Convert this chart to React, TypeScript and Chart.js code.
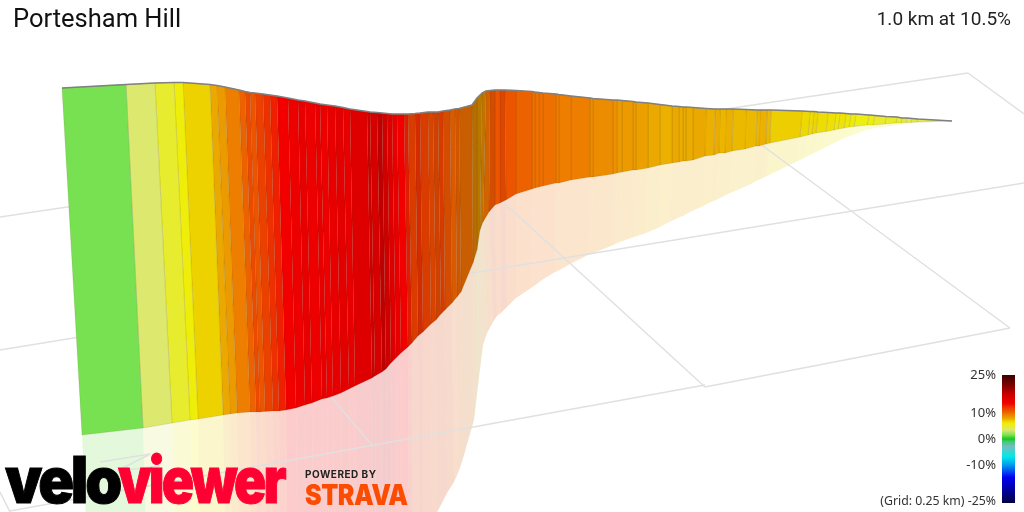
import React, { useEffect, useRef } from "react";
import { Chart, registerables } from "chart.js";

Chart.register(...registerables);

// wall top edge, wall foot and floor shadow edge at every gradient change
const topX = [62,126,155,174,183,210,217,225,239,245,250,255,263,270,277,288,298,305,315,320,327,335,343,350,367,370,377,382,387,392,397,404,408,415,420,428,433,438,443,450,455,459,472,477,482,486,490,495,500,505,516,532,535,539,543,556,559,571,590,593,613,617,622,633,636,648,660,672,679,683,686,693,706,715,720,726,733,746,757,760,767,771,802,810,814,818,828,836,840,846,851,856,869,875,886,897,902,907,912,918,952];
const topY = [88,84.5,83,82.5,82.5,84.5,85.5,87,90,91.5,92.5,93,94,95,96,98,100,101,103,104,105,106,107.5,109,111.5,112,112.5,113,113.5,114,114,114,114,113.5,113,112,112,112,111,110,109,108.5,105,98,93,91,90.5,90,90,90,90.5,91.5,92,92.5,93,94,94.5,96,98,98.5,100,100,100.5,101.5,102,103,104.5,106,106.5,107,107,107.5,108.5,109,109,109,109,109.5,110,110,110,110,111,111.5,111.5,112,112.5,113,113,113.5,114,114,115,115.5,116.5,117,118,118,118.5,119,121];
const footX = [82,143,172,190,198,223,230,237,250,256,260,265,273,279,286,296,305,312,322,327,333,341,349,355,372,375,382,386,391,396,401,408,412,418,423,431,436,441,445,452,457,461,473,477,480,483,489,495,500,506,516,532,535,539,543,556,559,571,590,593,613,617,622,633,636,648,660,672,679,683,686,693,705,714,719,725,732,745,756,759,766,770,800,808,812,816,826,834,838,844,849,854,867,873,885,896,901,906,911,917,952];
const footY = [435,428,423,420,419,415,414,413,412,412,412,411.5,411,411,410,408,405,403,399,398,396,393,389,386,378,376,372,369,363,358,353,347,343,336,332,324,320,314,310,303,297,292,263,250,230,222,212,205,203,200,194,189,188,187,186,183,183,180,177,177,174,173,172,170,170,168,165,163,162,161,161,160,156,155,153,153,151,149,146,146,144,143,137,135,134,133,131.5,130,129,128,127,126.5,125,125,124,123,123,122.5,122.5,122,121];
const shadeX = [90,148,176,194,201,226,233,240,252,258,262,267,275,281,288,298,307,314,324,329,335,343,351,357,373,376,383,387,392,397,402,409,413,419,424,432,437,442,447,454,458,462,474,478,483,487,493,497,501,507,516,531,534,538,542,555,558,570,588,591,611,615,620,631,634,646,658,669,676,680,683,690,703,711,716,722,729,742,753,756,763,767,798,806,810,814,824,832,836,842,847,853,866,872,884,895,900,905,910,916,952];
const shadeY = [600,600,600,600,600,600,600,600,600,600,600,600,600,600,600,600,600,600,600,600,600,600,600,600,600,600,590,585,580,575,570,565,560,550,545,530,512,503,493,482,473,462,420,385,345,333,322,316,313,307,298,288,286,283,280,272,271,264,255,254,246,244,242,238,237,233,228,222,219,217,216,212,206,202,200,197,193.5,188,183,181,178,176,161,157,155,153,148,144,142,139,137,135,130,128.5,127,125.5,124.5,124,123.5,123,121];

// road gradient (%) of each piece of the wall
const grades = [1.5,3.5,5,6,7,8,8.5,9.5,10.5,11.5,11,12,12.5,13,14,14.5,15,14.5,15,14.5,15,15.5,15,16,17,16.5,18,17,16,15,14,13,12,12.5,12,11.5,11.5,12,11,10.5,10.5,10,9,8.5,9,10,11,11,11.5,11,10.5,10,10,10,10,9.5,9.5,9.5,9,9,8.8,8.5,8.5,8.5,8.3,8,7.8,8,7.9,8,7.9,8,7.8,7.9,7.7,7.8,7.6,7.6,7.7,7.8,7.6,7.1,6.8,6.7,6.9,6.6,6.5,6.3,6.4,6.2,6.1,5.8,5.6,5.3,5.1,5,4.8,4.6,4.4,4.2];
const shadedPieces = [[31,0.93],[32,0.93],[33,0.9],[34,0.93],[35,0.92],[36,0.88],[37,0.92],[38,0.9],[39,0.92],[40,0.88],[41,0.84],[42,0.78],[43,0.78],[44,0.82],[45,0.88],[46,0.9],[48,0.94]];

// gradient (%) to colour, as in the colour bar
const scaleGrades = [-25,-20,-15,-10,-7,-3,-1,0,1.5,3.5,5,6,7,8,9,10,11,12,13,14,16,18,21,25];
const scaleColours = ["#000040","#0000a0","#0000f0","#00a0f0","#00e8e8","#70c0c0","#40c880","#18c818","#77e152","#dde86e","#e8ec2e","#eeee0a","#edd200","#eaa800","#ec8c00","#ee7000","#ec5400","#ea4000","#ee2000","#f20000","#de0000","#c00000","#800000","#3c0000"];

// floor grid, one [x0, y0, x1, y1] per line
const gridLines = [[0,217,968,73],[968,73,1024,114],[0,350,1024,183],[490,190,705,387],[705,387,1010,328],[763,146,1010,328],[10,511,705,385],[330,396,373,446],[0,492,10,512],[100,462,150,454],[150,454,117,471],[117,471,160,466]];

const barTick = [25, 10, 0, -10];
const barTickLabels = ["25%", "10%", "0%", "-10%"];

const barLeft = 1002, barRight = 1015, barTopY = 375, barBottomY = 503;

function hex(c: string) {
  return [1, 3, 5].map((i) => parseInt(c.slice(i, i + 2), 16));
}
function colourFor(g: number, light = 1, alpha = 1) {
  let i = 0;
  while (i < scaleGrades.length - 2 && g > scaleGrades[i + 1]) i++;
  const t = (g - scaleGrades[i]) / (scaleGrades[i + 1] - scaleGrades[i]);
  const a = hex(scaleColours[i]), b = hex(scaleColours[i + 1]);
  const c = a.map((v, k) => Math.round((v + (b[k] - v) * t) * light));
  return `rgba(${c[0]},${c[1]},${c[2]},${alpha})`;
}
function gradeY(g: number) {
  return barTopY + ((25 - g) / 50) * (barBottomY - barTopY);
}

const polygonPlugin = {
  id: "polygon",
  beforeDatasetDraw(chart: any, args: any) {
    const ds = chart.data.datasets[args.index];
    if (!ds.polyFill && !ds.polyStops) return;
    const pts = args.meta.data;
    const ctx = chart.ctx;
    ctx.save();
    ctx.beginPath();
    pts.forEach((p: any, i: number) => (i ? ctx.lineTo(p.x, p.y) : ctx.moveTo(p.x, p.y)));
    ctx.closePath();
    if (ds.polyStops) {
      const g = ctx.createLinearGradient(0, pts[0].y, 0, pts[3].y);
      ds.polyStops.forEach((s: [number, string]) => g.addColorStop(s[0], s[1]));
      ctx.fillStyle = g;
    } else {
      ctx.fillStyle = ds.polyFill;
    }
    ctx.fill();
    if (ds.polyEdge) {
      ctx.strokeStyle = ds.polyEdge;
      ctx.lineWidth = 1;
      ctx.stroke();
    }
    ctx.restore();
  },
};

function lightOf(i: number) {
  const s = shadedPieces.find((p) => p[0] === i);
  return s ? s[1] : 1;
}

const abs = (style: React.CSSProperties): React.CSSProperties => ({
  position: "absolute",
  whiteSpace: "nowrap",
  lineHeight: 1,
  transformOrigin: "left top",
  ...style,
});

export default function App() {
  const ref = useRef<HTMLCanvasElement | null>(null);
  useEffect(() => {
    const quad = (i: number, ax: number[], ay: number[], bx: number[], by: number[]) => [
      { x: ax[i], y: ay[i] },
      { x: ax[i + 1], y: ay[i + 1] },
      { x: bx[i + 1], y: by[i + 1] },
      { x: bx[i], y: by[i] },
    ];
    const hidden = { showLine: false, pointRadius: 0, pointHoverRadius: 0 };
    const datasets: any[] = [];
    datasets.push({
      label: "Colour bar",
      ...hidden,
      data: [
        { x: barLeft, y: barTopY },
        { x: barRight, y: barTopY },
        { x: barRight, y: barBottomY },
        { x: barLeft, y: barBottomY },
      ],
      polyStops: scaleGrades.map((g, i) => [(25 - g) / 50, scaleColours[i]]).reverse(),
    });
    datasets.push({
      label: "Road",
      data: topX.map((x, i) => ({ x, y: topY[i] })),
      showLine: true,
      borderColor: "#808080",
      borderWidth: 1.5,
      pointRadius: 0,
      tension: 0,
    });
    grades.forEach((g, i) => {
      datasets.push({
        label: `Wall ${i}`,
        ...hidden,
        data: quad(i, topX, topY, footX, footY),
        polyFill: colourFor(g, lightOf(i)),
        polyEdge: "rgba(70,60,20,0.12)",
      });
    });
    gridLines.forEach((l, i) => {
      datasets.push({
        label: `Grid ${i}`,
        data: [
          { x: l[0], y: l[1] },
          { x: l[2], y: l[3] },
        ],
        showLine: true,
        borderColor: "#e0e0e0",
        borderWidth: 1.5,
        pointRadius: 0,
      });
    });
    grades.forEach((g, i) => {
      datasets.push({
        label: `Shadow ${i}`,
        ...hidden,
        data: quad(i, footX, footY, shadeX, shadeY),
        polyFill: colourFor(g, lightOf(i), 0.2),
      });
    });
    const chart = new Chart(ref.current as HTMLCanvasElement, {
      type: "scatter",
      data: { datasets },
      plugins: [polygonPlugin],
      options: {
        animation: false,
        responsive: false,
        events: [],
        layout: { padding: 0 },
        clip: false,
        scales: {
          x: { type: "linear", display: false, min: 0, max: 1024 },
          y: { type: "linear", display: false, min: 0, max: 512, reverse: true },
        },
        plugins: { legend: { display: false }, tooltip: { enabled: false }, title: { display: false } },
      } as any,
    });
    return () => chart.destroy();
  }, []);

  const labelFont = "Roboto";
  return (
    <div style={{ position: "fixed", left: 0, top: 0, width: 1024, height: 512, overflow: "hidden", background: "#fff" }}>
      <canvas ref={ref} width={1024} height={512} style={{ display: "block", width: 1024, height: 512 }} />
      <div style={abs({ left: 13, top: 6, fontFamily: labelFont, fontSize: 25.5, color: "#111" })}>Portesham Hill</div>
      <div style={abs({ right: 13, top: 9, fontFamily: labelFont, fontSize: 19, color: "#222" })}>1.0 km at 10.5%</div>
      {barTick.map((g, i) => (
        <div key={g} style={abs({ right: 28, top: gradeY(g) - 7, fontFamily: "Noto Sans", fontSize: 13, color: "#333" })}>{barTickLabels[i]}</div>
      ))}
      <div style={abs({ right: 28, top: 495, fontFamily: "Noto Sans", fontSize: 12.3, color: "#333" })}>(Grid: 0.25 km) -25%</div>
      <div style={abs({ left: 5, top: 448, fontFamily: "Inter", fontWeight: 900, fontSize: 64, letterSpacing: -3.5, color: "#000", WebkitTextStroke: "1px #000", transform: "scaleX(0.925)" })}>velo</div>
      <div style={abs({ left: 118, top: 448, fontFamily: "Inter", fontWeight: 900, fontSize: 64, letterSpacing: -3.5, color: "#ff0033", WebkitTextStroke: "1px #ff0033", transform: "scaleX(0.835)" })}>viewer</div>
      <div style={abs({ left: 305, top: 469, fontFamily: "Inter", fontWeight: 700, fontSize: 10, letterSpacing: 0.5, color: "#222" })}>POWERED BY</div>
      <div style={abs({ left: 305, top: 481, fontFamily: "Inter", fontWeight: 900, fontSize: 28, letterSpacing: -0.5, color: "#fc4c02", transform: "scaleX(0.89)" })}>STRAVA</div>
    </div>
  );
}
